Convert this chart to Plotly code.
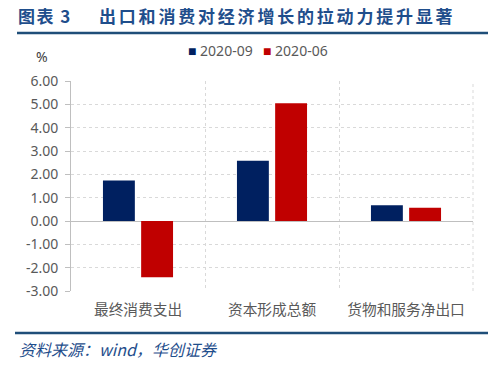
import plotly.graph_objects as go

categories = ["最终消费支出", "资本形成总额", "货物和服务净出口"]
series_names = ["2020-09", "2020-06"]
values_0909 = [1.74, 2.58, 0.67]
values_0606 = [-2.41, 5.05, 0.57]
y_ticks = [-3, -2, -1, 0, 1, 2, 3, 4, 5, 6]
y_tick_labels = [f"{v:.2f}" for v in y_ticks]
title_label = "图表 3"
title_text = "出口和消费对经济增长的拉动力提升显著"
source_text = "资料来源：wind，华创证券"

BLUE = "#002060"
RED = "#C00000"
TITLE_BLUE = "#1F4E8C"
GRAY = "#595959"
CJK = "Noto Sans CJK SC"

L, R, T, B = 71, 26, 81, 80
PW, PH = 499 - L - R, 371 - T - B


def px(x):
    return (x - L) / PW


def py(y):
    return (371 - B - y) / PH


fig = go.Figure()
fig.add_trace(go.Bar(x=categories, y=values_0909, name=series_names[0],
                     marker=dict(color=BLUE, line=dict(width=0)), showlegend=False))
fig.add_trace(go.Bar(x=categories, y=values_0606, name=series_names[1],
                     marker=dict(color=RED, line=dict(width=0)), showlegend=False))

fig.update_layout(
    width=499, height=371,
    margin=dict(l=L, r=R, t=T, b=B),
    paper_bgcolor="white", plot_bgcolor="white",
    barmode="group", bargap=0.43, bargroupgap=0.165,
    font=dict(family=CJK, color=GRAY),
)
fig.update_yaxes(range=[-3, 6], tickvals=y_ticks, ticktext=y_tick_labels,
                 showgrid=True, gridcolor="#D9D9D9", griddash="dot", gridwidth=1,
                 zeroline=True, zerolinecolor="#BFBFBF", zerolinewidth=1,
                 showline=True, linecolor="#BFBFBF", linewidth=1,
                 ticks="outside", ticklen=5, tickcolor="#BFBFBF",
                 ticklabelstandoff=4,
                 tickfont=dict(family="Noto Sans", size=14, color=GRAY))
fig.update_xaxes(range=[-0.5, 2.5], tickson="boundaries", showgrid=True,
                 gridcolor="#D9D9D9", griddash="dot", gridwidth=1,
                 ticks="", showline=False, ticklabelstandoff=8,
                 tickfont=dict(family=CJK, size=14.7, color=GRAY))

# right plot border (dotted)
fig.add_shape(type="line", xref="paper", yref="paper", x0=1, x1=1, y0=0, y1=1,
              line=dict(color="#D9D9D9", width=1, dash="dot"))

# legend (manual, to match the compact Excel legend)
legend_items = [(series_names[0], BLUE, 187), (series_names[1], RED, 262)]
for name, color, x0 in legend_items:
    fig.add_annotation(
        text=f"<span style='color:{color}'>■</span> {name}",
        xref="paper", yref="paper", x=px(x0 - 1), y=py(50),
        xanchor="left", yanchor="middle", showarrow=False,
        font=dict(family="Noto Sans", size=14, color=GRAY))

# title
fig.add_annotation(text=f"<b><span style='letter-spacing:1.5px'>{title_label}</span></b>",
                   xref="paper", yref="paper",
                   x=px(16), y=py(15), xanchor="left", yanchor="middle",
                   showarrow=False, font=dict(family=CJK, size=17, color=TITLE_BLUE))
fig.add_annotation(text=f"<b><span style='letter-spacing:2.8px'>{title_text}</span></b>",
                   xref="paper", yref="paper",
                   x=px(97), y=py(15), xanchor="left", yanchor="middle",
                   showarrow=False, font=dict(family=CJK, size=17, color=TITLE_BLUE))
# title underline
fig.add_shape(type="line", xref="paper", yref="paper",
              x0=px(17), x1=px(488), y0=py(33), y1=py(33),
              line=dict(color="#1F4E79", width=2.5))
# bottom line
fig.add_shape(type="line", xref="paper", yref="paper",
              x0=px(15), x1=px(488), y0=py(333), y1=py(333),
              line=dict(color="#1F4E79", width=2.5))
# source
fig.add_annotation(text=f"<i>{source_text}</i>", xref="paper", yref="paper",
                   x=px(17), y=py(349), xanchor="left", yanchor="middle",
                   showarrow=False, font=dict(family=CJK, size=16, color=TITLE_BLUE))
# unit
fig.add_annotation(text="%", xref="paper", yref="paper",
                   x=px(42), y=py(57), xanchor="center", yanchor="middle",
                   showarrow=False, font=dict(family="Noto Sans", size=14, color="#404040"))

fig.write_html("out.html", config={"displayModeBar": False},
               post_script="document.body.style.margin='0';document.body.style.padding='0';")
